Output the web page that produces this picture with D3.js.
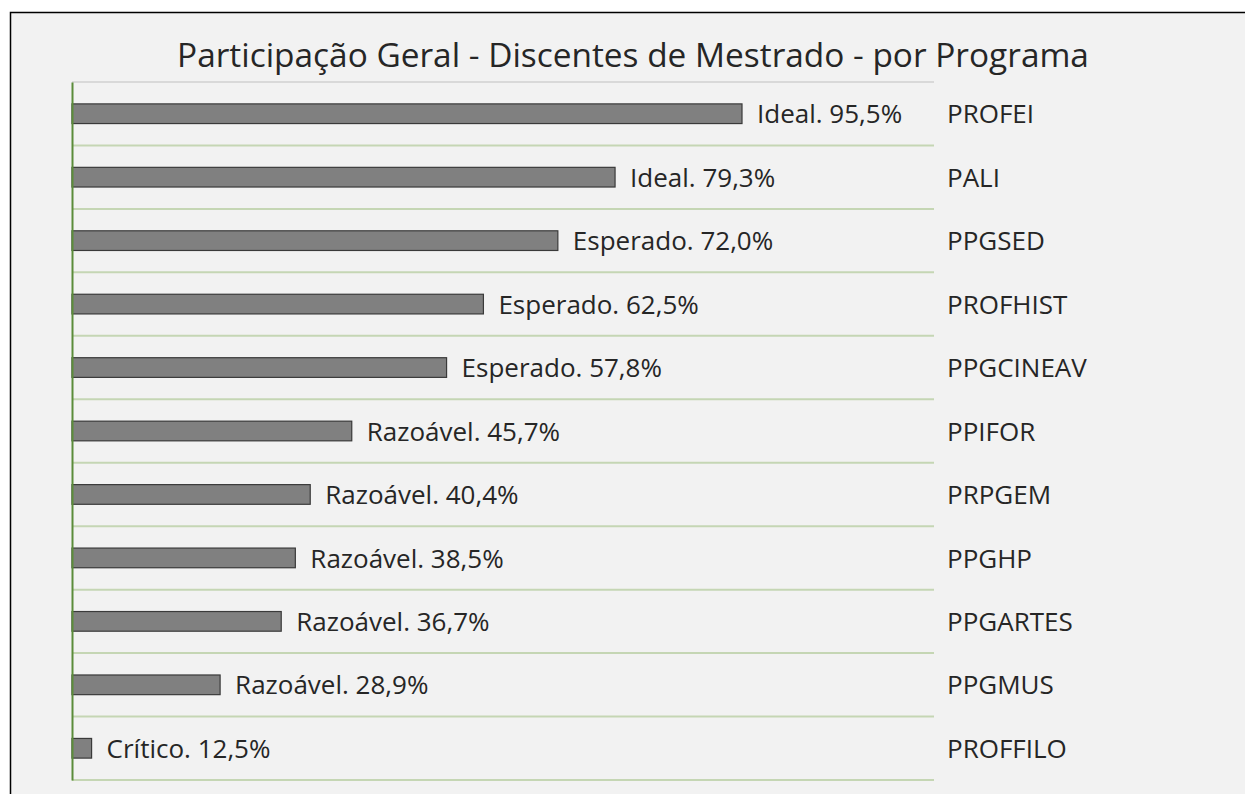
<!DOCTYPE html>
<html>
<head>
<meta charset="utf-8">
<script src="https://cdn.jsdelivr.net/npm/d3@7"></script>
<style>
  body { margin: 0; background: #ffffff; }
  text { font-family: "Open Sans", "Noto Sans", sans-serif; fill: #262626; }
</style>
</head>
<body>
<div id="chart"></div>
<script>
// Chart data
var programs = ["PROFEI", "PALI", "PPGSED", "PROFHIST", "PPGCINEAV", "PPIFOR",
                "PRPGEM", "PPGHP", "PPGARTES", "PPGMUS", "PROFFILO"];
var values = [95.5, 79.3, 72.0, 62.5, 57.8, 45.7, 40.4, 38.5, 36.7, 28.9, 12.5];
var levels = ["Ideal", "Ideal", "Esperado", "Esperado", "Esperado", "Razoável",
              "Razoável", "Razoável", "Razoável", "Razoável", "Crítico"];
var titleText = "Participação Geral - Discentes de Mestrado - por Programa";

var svgWidth = 1245;
var svgHeight = 794;

var plot = { left: 72, right: 934, top: 82, bottom: 780 };

var svg = d3.select("#chart")
  .append("svg")
  .attr("width", svgWidth)
  .attr("height", svgHeight);

// chart area background + border (only top/left visible in the crop)
svg.append("rect")
  .attr("x", 10.5)
  .attr("y", 12.5)
  .attr("width", 1400)
  .attr("height", 1000)
  .attr("fill", "#f2f2f2")
  .attr("stroke", "#000000")
  .attr("stroke-width", 1.5);

var rows = programs.map(function(p, i) {
  return { program: p, value: values[i], level: levels[i] };
});

// scales
var xScale = d3.scaleLinear()
  .domain([10, 120])
  .range([plot.left, plot.right]);

var yScale = d3.scaleBand()
  .domain(programs)
  .range([plot.top, plot.bottom])
  .padding(0);

var bw = yScale.bandwidth();

// title
svg.append("text")
  .attr("x", 633)
  .attr("y", 67)
  .attr("text-anchor", "middle")
  .style("font-size", "33.4px")
  .text(titleText);

// top gridline (gray)
svg.append("line")
  .attr("x1", plot.left).attr("x2", plot.right)
  .attr("y1", plot.top).attr("y2", plot.top)
  .attr("stroke", "#d9d9d9")
  .attr("stroke-width", 2);

// category separators (light green)
svg.selectAll(".sep")
  .data(programs)
  .enter()
  .append("line")
  .attr("class", "sep")
  .attr("x1", plot.left).attr("x2", plot.right)
  .attr("y1", d => yScale(d) + bw)
  .attr("y2", d => yScale(d) + bw)
  .attr("stroke", "#c5d6b4")
  .attr("stroke-width", 2);

// bars
svg.selectAll(".bar")
  .data(rows)
  .enter()
  .append("rect")
  .attr("class", "bar")
  .attr("x", xScale(10))
  .attr("y", d => yScale(d.program) + bw * 0.345)
  .attr("width", d => xScale(d.value) - xScale(10))
  .attr("height", bw * 0.31)
  .attr("fill", "#808080")
  .attr("stroke", "#3a3a3a")
  .attr("stroke-width", 1.2);

// value labels
svg.selectAll(".vlabel")
  .data(rows)
  .enter()
  .append("text")
  .attr("class", "vlabel")
  .attr("x", d => xScale(d.value) + 15)
  .attr("y", d => yScale(d.program) + bw / 2)
  .attr("dy", "0.37em")
  .style("font-size", "26px")
  .text(d => d.level + ". " + d.value.toFixed(1).replace(".", ",") + "%");

// left axis line (green)
var leftAxis = d3.axisLeft(yScale).tickSize(0).tickFormat("");
svg.append("g")
  .attr("transform", `translate(${plot.left}, 0)`)
  .call(leftAxis)
  .select(".domain")
  .attr("stroke", "#5b8c3a")
  .attr("stroke-width", 2);

// category labels on the right
var rightAxis = d3.axisRight(yScale).tickSize(0).tickPadding(13);
var rightG = svg.append("g")
  .attr("transform", `translate(${plot.right}, 0)`)
  .call(rightAxis);
rightG.select(".domain").remove();
rightG.selectAll("text")
  .style("font-size", "26px")
  .style("font-family", "'Open Sans', 'Noto Sans', sans-serif")
  .attr("fill", "#262626")
  .attr("dy", "0.37em");
</script>
</body>
</html>
